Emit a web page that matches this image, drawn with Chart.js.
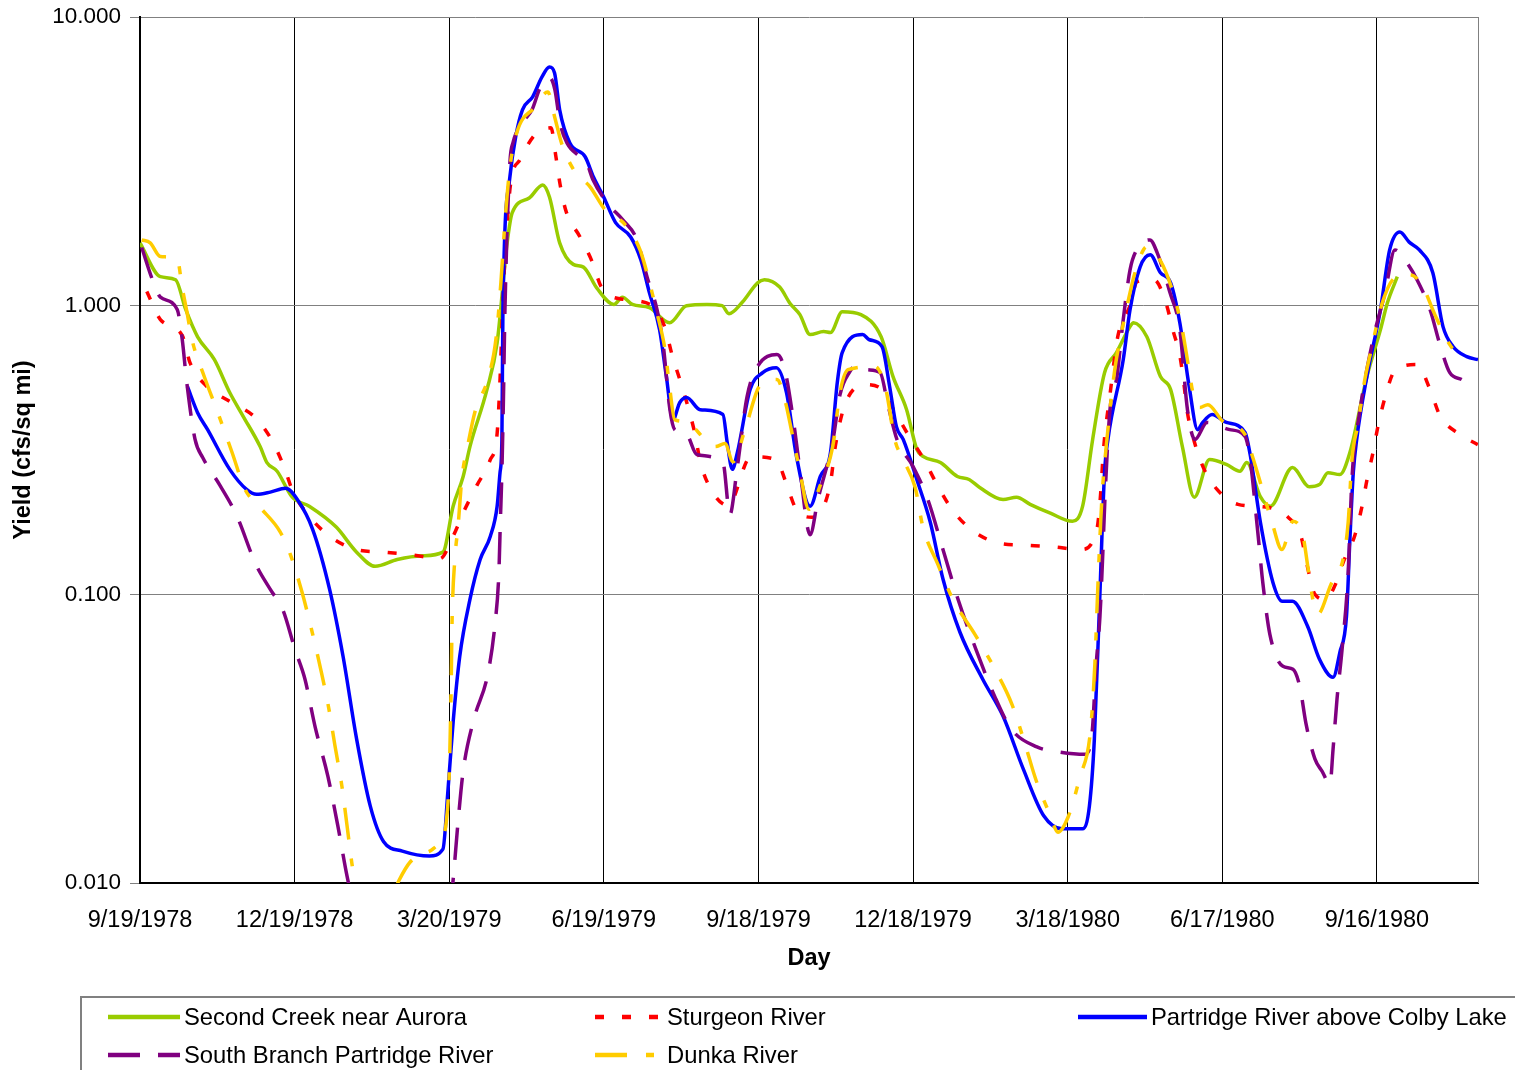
<!DOCTYPE html>
<html>
<head>
<meta charset="utf-8">
<title>Yield</title>
<script src="https://cdn.jsdelivr.net/npm/chart.js@4.4.1/dist/chart.umd.min.js"></script>
<style>
  html, body { margin: 0; padding: 0; background: #fff; }
  #chartContainer { width: 1515px; height: 1070px; }
</style>
</head>
<body>
<div id="chartContainer"><canvas id="myChart" width="1515" height="1070"></canvas></div>
<script>
// Days are counted from 9/19/1978
const tickDays = [0, 91, 182, 273, 364, 455, 546, 637, 728];
const tickLabels = ['9/19/1978', '12/19/1978', '3/20/1979', '6/19/1979', '9/18/1979',
                    '12/18/1979', '3/18/1980', '6/17/1980', '9/16/1980'];
const yTickValues = [0.01, 0.1, 1, 10];
const lastDay = 787.5;

// Second Creek near Aurora
const secondCreekDays = [0, 12, 20.9, 26.9, 33.9, 43.8, 52.8, 60.8, 70.7, 74.7, 80.7, 89.6, 99.6, 115.5, 127.5, 138.4, 151.4, 166.3, 178.3, 184.3,
  190.2, 194.2, 204.2, 210.2, 216.1, 219.1, 229.1, 237, 241, 247, 255, 261, 268.9, 278.9, 283.9, 289.8, 299.8, 311.7, 321.7, 333.7,
  342.6, 346.6, 354.6, 363.5, 367.5, 376.5, 382.5, 388.4, 394.4, 402.4, 406.4, 413.3, 424.3, 436.2, 443.2, 451.2, 457.2, 461.1, 471.1, 481.1,
  488, 494, 508, 515.9, 523.9, 535.8, 548.8, 554.8, 560.7, 567.7, 574.7, 582.7, 584.7, 592.6, 600.6, 606.6, 613.5, 620.5, 629.5, 639.4,
  647.4, 651.4, 659.4, 665.3, 678.3, 688.2, 694.2, 699.2, 706.2, 712.1, 722.1, 730.1, 734.1, 740];
const secondCreekYield = [1.65, 1.26, 1.23, 0.97, 0.78, 0.65, 0.50, 0.413, 0.325, 0.286, 0.267, 0.217, 0.202, 0.171, 0.140, 0.125, 0.132, 0.136, 0.140, 0.202,
  0.256, 0.325, 0.512, 0.744, 1.65, 2.10, 2.36, 2.62, 2.38, 1.65, 1.39, 1.36, 1.15, 1.01, 1.07, 1.01, 0.984, 0.873, 1.00, 1.01,
  1.00, 0.938, 1.03, 1.20, 1.23, 1.16, 1.02, 0.931, 0.794, 0.813, 0.807, 0.953, 0.931, 0.78, 0.568, 0.436, 0.318, 0.30, 0.286, 0.256,
  0.25, 0.235, 0.213, 0.217, 0.205, 0.191, 0.179, 0.202, 0.344, 0.586, 0.688, 0.846, 0.873, 0.78, 0.568, 0.512, 0.325, 0.217, 0.293, 0.282,
  0.267, 0.286, 0.218, 0.202, 0.275, 0.236, 0.24, 0.264, 0.26, 0.31, 0.568, 0.826, 1.02, 1.26];

// Sturgeon River
const sturgeonDays = [4, 12, 24.9, 29.4, 38.8, 53.8, 67.7, 77.7, 84.7, 90, 100.1, 111.6, 127.1, 143.4, 160.1, 176.6, 184.3, 191.2, 198.2, 206,
  210.2, 211.9, 213.6, 215.4, 218.3, 223.6, 232.5, 241.9, 244.8, 247.2, 250.7, 259, 265.9, 271.9, 285.5, 300.2, 309, 313.1, 317.7, 322.5,
  326.7, 329.7, 335.7, 346.1, 359.6, 374.3, 380.2, 386, 395.4, 406.1, 409.4, 414.9, 426.7, 435.3, 443.2, 452, 461.4, 469.1, 477.9, 489,
  504.4, 521.4, 537.3, 553.8, 563.2, 565, 567.3, 570.9, 575.6, 582.7, 586.8, 596.8, 603.9, 608, 612, 614.4, 616.2, 619.7, 625.6, 633.9,
  646.2, 664.3, 675.7, 683.3, 686.8, 691.5, 698, 703.2, 708.6, 715, 719.1, 722.1, 725.7, 728.6, 732.8, 738.6, 751.6, 759.3, 765.1, 776.9, 787.4];
const sturgeonYield = [1.12, 0.895, 0.787, 0.635, 0.529, 0.462, 0.41, 0.341, 0.277, 0.227, 0.185, 0.159, 0.143, 0.14, 0.137, 0.133, 0.159, 0.197, 0.238, 0.291,
  0.361, 0.555, 1.05, 1.69, 2.69, 3.20, 3.91, 4.13, 3.28, 2.64, 2.13, 1.73, 1.43, 1.15, 1.05, 1.01, 0.839, 0.677, 0.555, 0.447,
  0.358, 0.289, 0.233, 0.203, 0.30, 0.293, 0.244, 0.198, 0.185, 0.238, 0.33, 0.454, 0.533, 0.52, 0.44, 0.358, 0.293, 0.24, 0.197, 0.168,
  0.151, 0.148, 0.146, 0.143, 0.168, 0.208, 0.328, 0.492, 0.787, 1.0, 1.21, 1.23, 1.02, 0.82, 0.671, 0.537, 0.436, 0.352, 0.277, 0.231,
  0.205, 0.20, 0.185, 0.159, 0.127, 0.10, 0.096, 0.107, 0.131, 0.16, 0.20, 0.248, 0.31, 0.381, 0.481, 0.596, 0.625, 0.512, 0.416, 0.358, 0.33];

// Partridge River above Colby Lake
const partridgeDays = [27.9, 33.9, 39.8, 52.8, 62.7, 68.7, 76.7, 85.7, 92.6, 101.6, 111.6, 119.5, 127.5, 135.5, 143.4, 154.4, 170.3, 178.3, 181.3, 184.3,
  188.2, 194.2, 200.2, 206.2, 210.2, 211.9, 213, 213.6, 217.7, 221.1, 225.1, 231.1, 236.6, 241, 244, 247, 253, 262, 266.9, 272.9,
  279.9, 288.8, 294.8, 299.8, 305.8, 309.8, 313.7, 317.7, 321.7, 329.7, 343.1, 345.6, 348.6, 351.6, 359.1, 366.5, 374.5, 380.5, 386.4, 394.4,
  400.4, 406.4, 410.4, 413.3, 425.3, 429.3, 436.7, 441.2, 445.2, 449.2, 457.2, 465.1, 472.6, 482.6, 496, 508, 519.9, 531.9, 542.8, 554.8,
  558.8, 561.7, 564.7, 567.7, 569.7, 578.7, 582.7, 588.6, 594.6, 600.6, 606.6, 612, 617.5, 622.5, 625.5, 631, 639.4, 650.4, 653.4, 659.4,
  666.8, 672.3, 678.3, 687.2, 694.2, 702.2, 706.2, 710.1, 712.1, 714.1, 716.1, 722.1, 730.1, 735.5, 741.5, 747, 753, 760.9, 766.9, 772.9, 780.9, 787.5];
const partridgeYield = [0.525, 0.426, 0.372, 0.271, 0.231, 0.222, 0.226, 0.233, 0.213, 0.168, 0.104, 0.061, 0.0315, 0.0185, 0.0139, 0.0129, 0.0124, 0.0131, 0.0211, 0.0361,
  0.061, 0.096, 0.132, 0.159, 0.202, 0.264, 0.344, 0.968, 2.79, 3.84, 4.77, 5.29, 6.20, 6.71, 6.40, 4.77, 3.66, 3.28, 2.79, 2.38,
  1.94, 1.73, 1.44, 1.11, 0.826, 0.568, 0.403, 0.462, 0.481, 0.436, 0.42, 0.336, 0.271, 0.31, 0.512, 0.586, 0.61, 0.50, 0.30, 0.202,
  0.256, 0.31, 0.542, 0.688, 0.794, 0.762, 0.721, 0.525, 0.381, 0.344, 0.25, 0.178, 0.113, 0.0739, 0.0508, 0.0378, 0.0248, 0.0171, 0.0154, 0.0154,
  0.0185, 0.0315, 0.0908, 0.264, 0.344, 0.65, 0.968, 1.36, 1.50, 1.30, 1.20, 0.873, 0.525, 0.372, 0.394, 0.42, 0.394, 0.364, 0.305, 0.178,
  0.110, 0.0946, 0.0946, 0.0775, 0.0596, 0.0516, 0.063, 0.084, 0.155, 0.264, 0.344, 0.568, 0.968, 1.56, 1.80, 1.66, 1.56, 1.30, 0.846, 0.721, 0.666, 0.65];

// South Branch Partridge River
const southBranchDays = [1, 8, 12, 21.9, 24.9, 27.4, 32.4, 36.9, 46.8, 56.8, 68.2, 76.7, 84.2, 91.2, 97.1, 103, 110.6, 116.5, 121.8, 124.8,
  134.5, 174.3, 183.7, 187.2, 190.2, 196.2, 204.8, 209, 211.2, 212.1, 213, 213.9, 214.8, 217.7, 219.5, 225.1, 230.7, 235.5, 241.3, 244.2,
  247.2, 251.3, 259, 262.9, 266.6, 274.9, 284.3, 292.5, 298.4, 304.3, 307.8, 311.9, 314.7, 321.7, 327.7, 343.1, 347.2, 351.4, 357.3, 363.1,
  374.9, 379.5, 384.5, 388.4, 394.4, 399, 407.9, 412, 417.8, 422, 427.9, 435.6, 440.2, 445.5, 455, 463.7, 472.6, 481.5, 492, 503,
  512.9, 527.9, 541.4, 556.2, 560.4, 562.7, 565, 566.7, 567.9, 570.9, 575, 578.7, 582.7, 586.6, 594.4, 598.6, 606.2, 612, 616.5, 620.9,
  628, 641.4, 650.4, 653.4, 657.9, 660.9, 665, 672.7, 678.6, 682.7, 686.2, 691.5, 695.7, 700.4, 702.2, 704.5, 707.5, 711.1, 713.3, 718.1,
  725.7, 732.8, 738.6, 744.5, 751.6, 759.3, 765.1, 770.9, 777.9];
const southBranchYield = [1.59, 1.20, 1.07, 0.97, 0.76, 0.55, 0.344, 0.298, 0.24, 0.188, 0.127, 0.104, 0.088, 0.0645, 0.0508, 0.0349, 0.0234, 0.0157, 0.0106, 0.0088,
  0.005, 0.005, 0.0095, 0.0163, 0.0244, 0.0364, 0.0533, 0.0794, 0.118, 0.179, 0.266, 0.473, 0.97, 3.12, 3.66, 4.30, 4.77, 5.68, 6.15, 5.59,
  4.30, 3.66, 3.28, 3.12, 2.73, 2.27, 1.98, 1.69, 1.26, 0.968, 0.744, 0.436, 0.372, 0.358, 0.305, 0.286, 0.189, 0.271, 0.484, 0.61,
  0.677, 0.60, 0.403, 0.271, 0.161, 0.213, 0.344, 0.492, 0.591, 0.625, 0.60, 0.586, 0.454, 0.344, 0.277, 0.213, 0.143, 0.096, 0.0645, 0.0444,
  0.0341, 0.0296, 0.0284, 0.0279, 0.0333, 0.0563, 0.084, 0.14, 0.213, 0.436, 0.568, 0.895, 1.33, 1.56, 1.69, 1.53, 1.11, 0.826, 0.436, 0.344,
  0.394, 0.372, 0.352, 0.293, 0.164, 0.109, 0.0727, 0.0563, 0.055, 0.0477, 0.0358, 0.0269, 0.0244, 0.022, 0.0291, 0.0433, 0.0645, 0.119, 0.25, 0.436,
  0.762, 1.11, 1.56, 1.44, 1.23, 0.968, 0.733, 0.586, 0.555];

// Dunka River
const dunkaDays = [1, 6, 12, 21.9, 24.9, 27.7, 30.6, 37.6, 45.8, 54.2, 61.8, 70.7, 82.4, 88.2, 95.3, 101.2, 106.6, 111.3, 114.7, 118.9,
  121.8, 124.8, 129.5, 144.4, 152.4, 158.9, 166.5, 172.3, 177.3, 180.1, 181.9, 183.1, 183.7, 185.3, 187.2, 189.5, 193, 197.2, 205.2, 209.6,
  212.4, 214.8, 217.7, 221.9, 232.5, 240, 244.2, 248.4, 256, 264.9, 273.7, 285.5, 294.3, 299, 303.8, 309, 311.9, 314.7, 320.7, 332.7,
  338.6, 344.3, 349, 356.1, 364.9, 374.9, 379.5, 383.8, 388.4, 393.7, 400.2, 407.9, 412, 416.7, 432.6, 439, 444.2, 449.2, 456.2, 460.8,
  469.6, 478.5, 491.4, 503.2, 513.2, 520.9, 527.4, 535.5, 540.3, 546.2, 553.3, 559.2, 562, 563.7, 566.1, 569.1, 573.7, 578, 582.7, 585.6,
  592.6, 600.3, 607.4, 613.2, 617.3, 619.7, 623.8, 628.5, 637.4, 650.4, 654.4, 659.2, 666.2, 672.1, 678.6, 684.5, 687.4, 690.3, 693.2, 700.9,
  708, 711.1, 713.3, 716.8, 721.1, 725.1, 731.1, 738.6, 747.4, 754.5, 762.1, 770.9, 779.9];
const dunkaYield = [1.69, 1.65, 1.48, 1.45, 1.15, 0.946, 0.763, 0.573, 0.426, 0.31, 0.231, 0.20, 0.165, 0.139, 0.102, 0.0745, 0.0542, 0.0397, 0.030, 0.0215,
  0.0159, 0.0116, 0.008, 0.008, 0.0102, 0.0118, 0.0126, 0.0131, 0.0142, 0.016, 0.0229, 0.0469, 0.0819, 0.132, 0.172, 0.254, 0.33, 0.43, 0.568, 0.775,
  1.20, 1.95, 3.0, 4.0, 4.88, 5.50, 4.47, 3.61, 2.91, 2.58, 2.15, 1.91, 1.56, 1.26, 0.968, 0.704, 0.512, 0.403, 0.397, 0.344,
  0.325, 0.333, 0.288, 0.372, 0.529, 0.555, 0.473, 0.361, 0.266, 0.197, 0.237, 0.33, 0.50, 0.60, 0.615, 0.512, 0.344, 0.293, 0.235, 0.171,
  0.127, 0.096, 0.0727, 0.055, 0.0416, 0.0303, 0.0227, 0.0173, 0.015, 0.0169, 0.0234, 0.0328, 0.0573, 0.104, 0.213, 0.344, 0.60, 0.826, 1.11, 1.30,
  1.60, 1.44, 1.14, 0.839, 0.605, 0.50, 0.444, 0.454, 0.397, 0.358, 0.305, 0.246, 0.178, 0.143, 0.179, 0.159, 0.124, 0.096, 0.0853, 0.108,
  0.132, 0.178, 0.293, 0.387, 0.563, 0.721, 1.02, 1.25, 1.28, 1.18, 0.931, 0.733, 0.64];

const fontFamily = '"Liberation Sans", Arial, sans-serif';

function toPoints(days, values) {
    return days.map((d, i) => ({ x: d, y: values[i] }));
}

// Legend entries in the box under the chart (dataset index, sample start, sample end, text x, row y)
const legendSlots = [
    { ds: 0, x0: 108, x1: 180, tx: 184, y: 1017 },
    { ds: 1, x0: 595, x1: 660, tx: 667, y: 1017 },
    { ds: 2, x0: 1078, x1: 1147, tx: 1151, y: 1017 },
    { ds: 3, x0: 108, x1: 180, tx: 184, y: 1055 },
    { ds: 4, x0: 595, x1: 660, tx: 667, y: 1055 }
];

const decorations = {
    id: 'decorations',
    afterDraw(chart) {
        const ctx = chart.ctx;
        const area = chart.chartArea;
        ctx.save();

        // right edge of the plot frame
        ctx.strokeStyle = '#808080';
        ctx.lineWidth = 1;
        ctx.beginPath();
        ctx.moveTo(area.right + 0.5, area.top);
        ctx.lineTo(area.right + 0.5, area.bottom);
        ctx.stroke();

        // axis titles
        ctx.fillStyle = '#000';
        ctx.font = 'bold 23.5px ' + fontFamily;
        ctx.textAlign = 'center';
        ctx.textBaseline = 'middle';
        ctx.fillText('Day', (area.left + area.right) / 2, 959);
        ctx.save();
        ctx.translate(24, 450);
        ctx.rotate(-Math.PI / 2);
        ctx.fillText('Yield (cfs/sq mi)', 0, 0);
        ctx.restore();

        // legend box
        ctx.strokeStyle = '#808080';
        ctx.lineWidth = 2;
        ctx.strokeRect(81, 997, 1500, 200);

        ctx.font = '23.8px ' + fontFamily;
        ctx.textAlign = 'left';
        legendSlots.forEach(slot => {
            const ds = chart.data.datasets[slot.ds];
            ctx.strokeStyle = ds.borderColor;
            ctx.lineWidth = 4.5;
            ctx.lineCap = 'butt';
            ctx.setLineDash(ds.borderDash || []);
            ctx.beginPath();
            ctx.moveTo(slot.x0, slot.y);
            ctx.lineTo(slot.x1, slot.y);
            ctx.stroke();
            ctx.setLineDash([]);
            ctx.fillStyle = '#000';
            ctx.fillText(ds.label, slot.tx, slot.y + 1);
        });
        ctx.restore();
    }
};

const ctx = document.getElementById('myChart').getContext('2d');

const currentChart = new Chart(ctx, {
    type: 'line',
    data: {
        datasets: [
            {
                label: 'Second Creek near Aurora',
                data: toPoints(secondCreekDays, secondCreekYield),
                borderColor: '#99CC00',
                order: 4
            },
            {
                label: 'Sturgeon River',
                data: toPoints(sturgeonDays, sturgeonYield),
                borderColor: '#FF0000',
                borderDash: [9, 18],
                order: 3
            },
            {
                label: 'Partridge River above Colby Lake',
                data: toPoints(partridgeDays, partridgeYield),
                borderColor: '#0000FF',
                order: 2
            },
            {
                label: 'South Branch Partridge River',
                data: toPoints(southBranchDays, southBranchYield),
                borderColor: '#800080',
                borderDash: [32, 18],
                order: 1
            },
            {
                label: 'Dunka River',
                data: toPoints(dunkaDays, dunkaYield),
                borderColor: '#FFCC00',
                borderDash: [32, 19, 8, 19],
                order: 0
            }
        ]
    },
    options: {
        responsive: false,
        animation: false,
        layout: { padding: { left: 0, top: 17, right: 37, bottom: 0 } },
        elements: {
            point: { radius: 0, hoverRadius: 0 },
            line: { borderWidth: 3.5, cubicInterpolationMode: 'monotone', borderCapStyle: 'butt', fill: false }
        },
        plugins: {
            legend: { display: false },
            tooltip: { enabled: false }
        },
        scales: {
            x: {
                type: 'linear',
                min: 0,
                max: lastDay,
                afterBuildTicks: scale => { scale.ticks = tickDays.map(v => ({ value: v })); },
                afterFit: scale => {
                    scale.height = 187;
                    scale.paddingLeft = 0;
                    scale.paddingRight = 0;
                },
                ticks: {
                    autoSkip: false,
                    maxRotation: 0,
                    padding: 23,
                    color: '#000',
                    font: { family: fontFamily, size: 23.5 },
                    callback: value => tickLabels[tickDays.indexOf(value)]
                },
                grid: { color: '#000', lineWidth: 1, drawTicks: false },
                border: { display: true, color: '#000', width: 2 }
            },
            y: {
                type: 'logarithmic',
                min: 0.01,
                max: 10,
                afterBuildTicks: scale => { scale.ticks = yTickValues.map(v => ({ value: v })); },
                afterFit: scale => {
                    scale.width = 140;
                    scale.paddingTop = 0;
                    scale.paddingBottom = 0;
                },
                ticks: {
                    padding: 9,
                    color: '#000',
                    font: { family: fontFamily, size: 22.5 },
                    callback: value => Number(value).toFixed(3)
                },
                grid: { color: '#808080', lineWidth: 1, tickLength: 10 },
                border: { display: true, color: '#000', width: 2 }
            }
        }
    },
    plugins: [decorations]
});
</script>
</body>
</html>
